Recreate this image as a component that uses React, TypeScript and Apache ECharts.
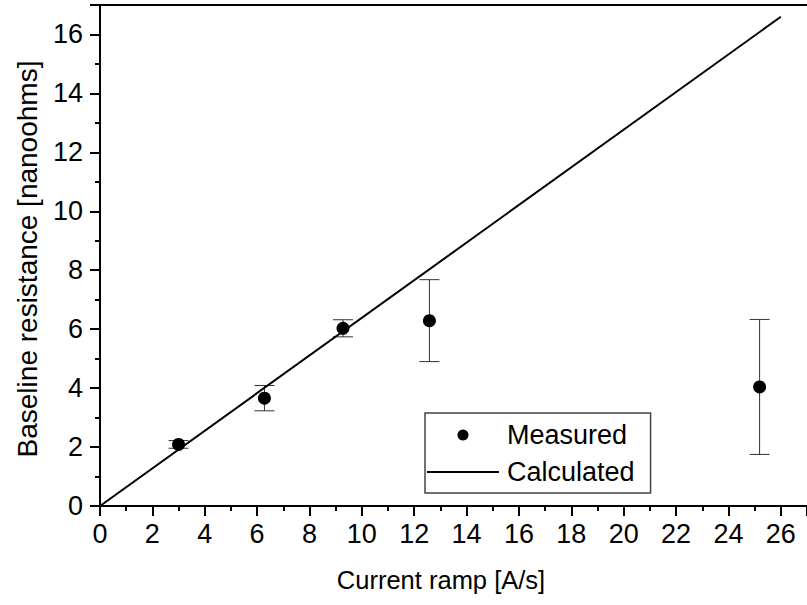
import React, { useEffect, useRef } from "react";
import * as echarts from "echarts";

const rampX = [3.0, 6.28, 9.28, 12.58, 25.19];
const measuredY = [2.09, 3.66, 6.03, 6.29, 4.04];
const errorY = [0.13, 0.43, 0.29, 1.39, 2.29];
const calcX = [0, 26];
const calcY = [0, 16.6];

const FONT = "'Liberation Sans', Arial, Helvetica, sans-serif";

export default function App() {
  const ref = useRef<HTMLDivElement>(null);
  useEffect(() => {
    document.body.style.margin = "0";
    const chart = echarts.init(ref.current!, null, { renderer: "svg" });
    const scatterData = rampX.map((x, i) => [x, measuredY[i]]);
    const errData = rampX.map((x, i) => [x, measuredY[i] - errorY[i], measuredY[i] + errorY[i]]);
    const lineData = calcX.map((x, i) => [x, calcY[i]]);
    const axisLine = { lineStyle: { color: "#000", width: 2 } };
    chart.setOption({
      animation: false,
      backgroundColor: "#fff",
      textStyle: { fontFamily: FONT },
      grid: { left: 100, top: 5, width: 27 * 26.5, height: 501, containLabel: false },
      xAxis: [
        {
          type: "value",
          min: 0,
          max: 27,
          interval: 2,
          axisLine: { ...axisLine, onZero: false },
          axisTick: { show: true, inside: false, length: 10, lineStyle: { color: "#000", width: 2 } },
          minorTick: { show: true, splitNumber: 2, length: 5, lineStyle: { color: "#000", width: 2 } },
          axisLabel: { fontSize: 27, color: "#000", margin: 14, fontFamily: FONT, showMaxLabel: false },
          splitLine: { show: false },
          minorSplitLine: { show: false },
        },
        {
          type: "value",
          position: "top",
          min: 0,
          max: 27,
          interval: 2,
          axisLine: { ...axisLine, onZero: false },
          axisTick: { show: false },
          axisLabel: { show: false },
          splitLine: { show: false },
        },
      ],
      yAxis: {
        type: "value",
        min: 0,
        max: 17,
        interval: 2,
        axisLine: { ...axisLine, onZero: false },
        axisTick: { show: true, inside: false, length: 10, lineStyle: { color: "#000", width: 2 } },
        minorTick: { show: true, splitNumber: 2, length: 5, lineStyle: { color: "#000", width: 2 } },
        axisLabel: { fontSize: 27, color: "#000", margin: 17, fontFamily: FONT, showMaxLabel: false },
        splitLine: { show: false },
        minorSplitLine: { show: false },
      },
      legend: {
        orient: "vertical",
        left: 425,
        top: 413,
        padding: [7, 16, 6, 2],
        itemGap: 7,
        itemWidth: 72,
        itemHeight: 11,
        borderColor: "#444",
        borderWidth: 1.5,
        backgroundColor: "#fff",
        textStyle: { fontSize: 27, lineHeight: 30, color: "#000", fontFamily: FONT, padding: [0, 0, 0, 3] },
        data: [
          { name: "Measured", icon: "circle" },
          { name: "Calculated", icon: "path://M0,0 L72,0 L72,2 L0,2 Z" },
        ],
      },
      graphic: [
        {
          type: "text",
          x: 441,
          y: 580,
          style: {
            text: "Current ramp [A/s]",
            fontSize: 25.5,
            fontFamily: FONT,
            fill: "#000",
            textAlign: "center",
            textVerticalAlign: "middle",
          },
        },
        {
          type: "text",
          x: 27,
          y: 259,
          rotation: Math.PI / 2,
          style: {
            text: "Baseline resistance [nanoohms]",
            fontSize: 28,
            fontFamily: FONT,
            fill: "#000",
            textAlign: "center",
            textVerticalAlign: "middle",
          },
        },
      ],
      series: [
        {
          name: "Calculated",
          type: "line",
          data: lineData,
          symbol: "none",
          showSymbol: false,
          lineStyle: { color: "#000", width: 2 },
          itemStyle: { color: "#000" },
          z: 3,
        },
        {
          name: "Error",
          type: "custom",
          data: errData,
          z: 2,
          renderItem: (params: any, api: any) => {
            const x = api.value(0);
            const lo = api.coord([x, api.value(1)]);
            const hi = api.coord([x, api.value(2)]);
            const hw = 10;
            const style = { stroke: "#333", lineWidth: 1 };
            return {
              type: "group",
              children: [
                { type: "line", shape: { x1: lo[0], y1: lo[1], x2: hi[0], y2: hi[1] }, style },
                { type: "line", shape: { x1: lo[0] - hw, y1: lo[1], x2: lo[0] + hw, y2: lo[1] }, style },
                { type: "line", shape: { x1: hi[0] - hw, y1: hi[1], x2: hi[0] + hw, y2: hi[1] }, style },
              ],
            };
          },
        },
        {
          name: "Measured",
          type: "scatter",
          data: scatterData,
          symbol: "circle",
          symbolSize: 13,
          itemStyle: { color: "#000", opacity: 1 },
          z: 4,
        },
      ],
    });
    return () => chart.dispose();
  }, []);
  return (
    <div
      ref={ref}
      style={{ position: "absolute", left: 0, top: 0, width: 807, height: 605 }}
    />
  );
}
